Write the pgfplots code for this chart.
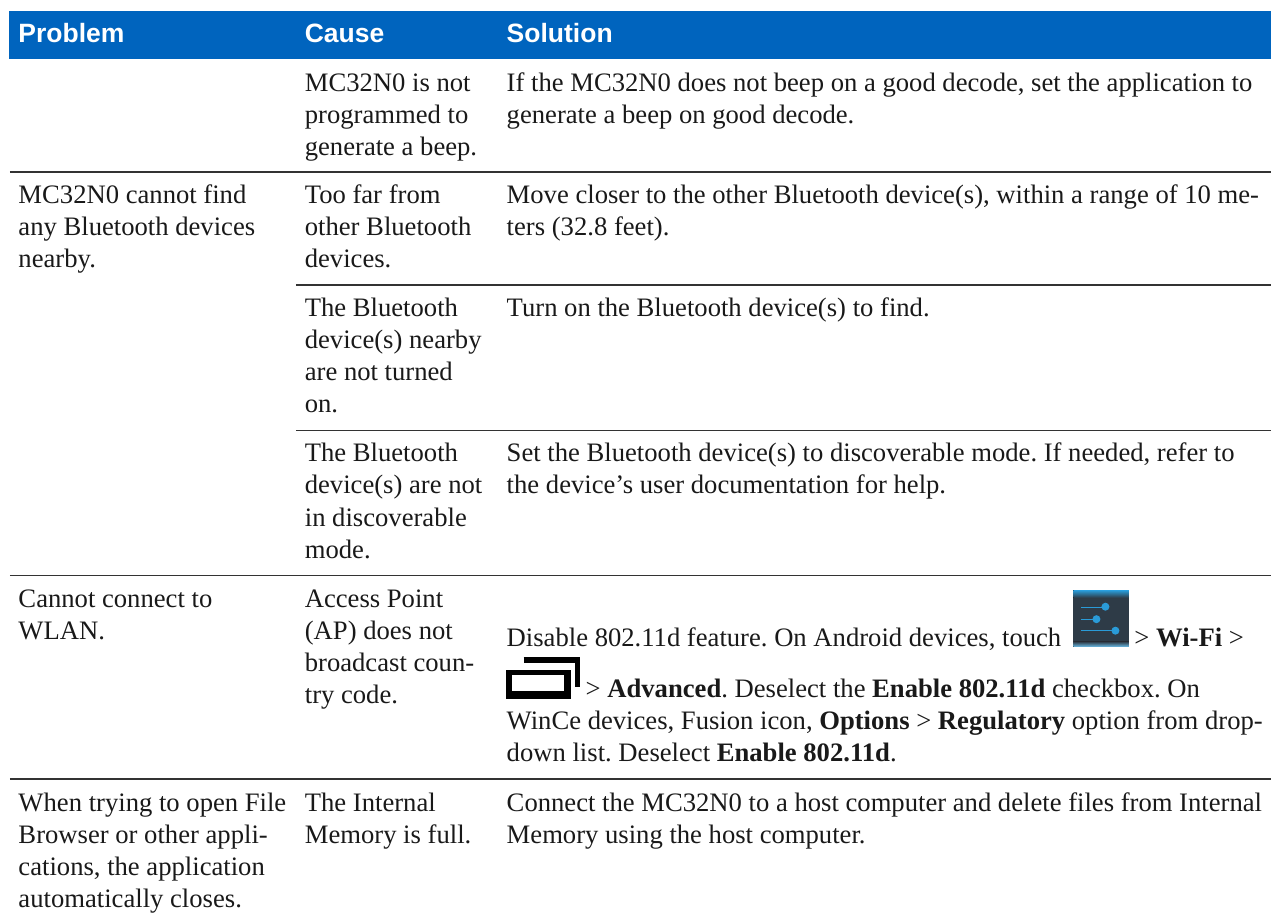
\documentclass[border=0pt]{standalone}
\usepackage{pgfplots}
\pgfplotsset{compat=1.18}
\usepackage{fontspec}
\setmainfont{Liberation Serif}
\newfontfamily\hdr{Liberation Sans}
\frenchspacing
\definecolor{hdrblue}{HTML}{0064BE}
\definecolor{rulec}{HTML}{333333}
\definecolor{iconbody}{HTML}{2E3B47}
\definecolor{iconblue}{HTML}{2A9BD8}
\newcommand{\T}[3]{\node[anchor=base west,inner sep=0pt,outer sep=0pt,text=black!90,font=\fontsize{26.65}{32}\selectfont] at (axis cs:#1,#2) {#3};}
\newcommand{\Hd}[2]{\node[anchor=base west,inner sep=0pt,outer sep=0pt,text=white,font=\hdr\bfseries\fontsize{26.5}{31}\selectfont] at (axis cs:#1,42.7) {#2};}
\begin{document}
\begin{tikzpicture}
\begin{axis}[scale only axis,width=1272pt,height=921pt,xmin=0,xmax=1272,ymin=0,ymax=921,y dir=reverse,hide axis,clip=false]
\path (axis cs:0,0) (axis cs:1272,921);
\addplot[draw=none,fill=hdrblue] coordinates {(9,11) (1272,11) (1272,59) (9,59)} -- cycle;
\addplot[rulec,line width=1.3pt] coordinates {(10,172) (1272,172)};
\addplot[rulec,line width=1.3pt] coordinates {(296,285) (1272,285)};
\addplot[rulec,line width=1.3pt] coordinates {(296,430.7) (1272,430.7)};
\addplot[rulec,line width=1.3pt] coordinates {(10,575.7) (1272,575.7)};
\addplot[rulec,line width=1.3pt] coordinates {(10,779.3) (1272,779.3)};
\Hd{18.5}{Problem}\Hd{305}{Cause}\Hd{507}{Solution}
\T{305}{92}{MC32N0 is not}
\T{305}{124}{programmed to}
\T{305}{156}{generate a beep.}
\T{507}{92}{If the MC32N0 does not beep on a good decode, set the application to}
\T{507}{124}{generate a beep on good decode.}
\T{18.5}{204}{MC32N0 cannot find}
\T{18.5}{236}{any Bluetooth devices}
\T{18.5}{268}{nearby.}
\T{305}{204}{Too far from}
\T{305}{236}{other Bluetooth}
\T{305}{268}{devices.}
\T{507}{204}{Move closer to the other Bluetooth device(s), within a range of 10 me-}
\T{507}{236}{ters (32.8 feet).}
\T{305}{317}{The Bluetooth}
\T{305}{349}{device(s) nearby}
\T{305}{381}{are not turned}
\T{305}{413}{on.}
\T{507}{317}{Turn on the Bluetooth device(s) to find.}
\T{305}{462}{The Bluetooth}
\T{305}{494}{device(s) are not}
\T{305}{527}{in discoverable}
\T{305}{559}{mode.}
\T{507}{462}{Set the Bluetooth device(s) to discoverable mode. If needed, refer to}
\T{507}{494}{the device’s user documentation for help.}
\T{18.5}{608}{Cannot connect to}
\T{18.5}{640}{WLAN.}
\T{305}{608}{Access Point}
\T{305}{640}{(AP) does not}
\T{305}{672}{broadcast coun-}
\T{305}{704}{try code.}
\T{507}{647.3}{Disable 802.11d feature. On Android devices, touch}
\T{1135}{647.3}{> \textbf{Wi-Fi} >}
\T{586}{697.7}{> \textbf{Advanced}. Deselect the \textbf{Enable 802.11d} checkbox. On}
\T{507}{730}{WinCe devices, Fusion icon, \textbf{Options} > \textbf{Regulatory} option from drop-}
\T{507}{762}{down list. Deselect \textbf{Enable 802.11d}.}
\T{18.5}{812}{When trying to open File}
\T{18.5}{844}{Browser or other appli-}
\T{18.5}{876}{cations, the application}
\T{18.5}{908}{automatically closes.}
\T{305}{812}{The Internal}
\T{305}{844}{Memory is full.}
\T{507}{812}{Connect the MC32N0 to a host computer and delete files from Internal}
\T{507}{844}{Memory using the host computer.}
% settings icon
\fill[iconbody] (axis cs:1074,590.7) rectangle (axis cs:1129.5,647);
\fill[top color=iconblue,bottom color=iconbody] (axis cs:1074,590.7) rectangle (axis cs:1129.5,598);
\fill[top color=iconbody,bottom color=iconblue!70] (axis cs:1074,642) rectangle (axis cs:1129.5,647);
\draw[iconblue,line width=1.2pt] (axis cs:1082,608) -- (axis cs:1106,608);
\fill[iconblue] (axis cs:1106,607) circle[radius=4pt];
\draw[iconblue,line width=1.2pt] (axis cs:1082,620) -- (axis cs:1097,620);
\fill[iconblue] (axis cs:1097,619.5) circle[radius=4pt];
\draw[iconblue,line width=1.2pt] (axis cs:1082,631) -- (axis cs:1116,631);
\fill[iconblue] (axis cs:1116,631) circle[radius=4pt];
% window icon
\fill[black] (axis cs:506,670) rectangle (axis cs:571,699);
\fill[white] (axis cs:512,675) rectangle (axis cs:564,691);
\draw[black,line width=5.5pt] (axis cs:524,660.5) -- (axis cs:578,660.5) -- (axis cs:578,687);
\end{axis}
\end{tikzpicture}
\end{document}
